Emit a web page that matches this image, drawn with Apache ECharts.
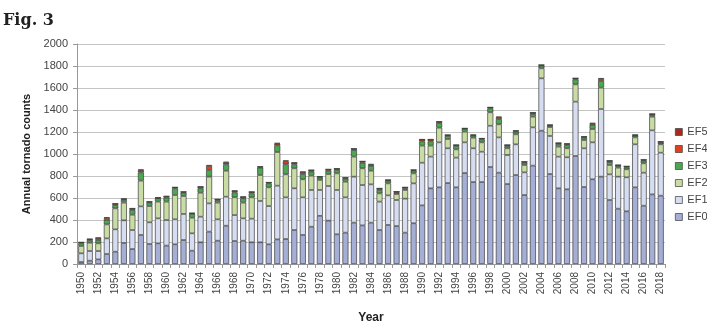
<!DOCTYPE html>
<html>
<head>
<meta charset="utf-8">
<script src="https://cdn.jsdelivr.net/npm/echarts@6/dist/echarts.min.js"></script>
<style>
html,body{margin:0;padding:0;background:#fff;}
#c{width:707px;height:330px;}
</style>
</head>
<body>
<div id="c"></div>
<script>
const years = [];
for (let y = 1950; y <= 2018; y++) years.push(String(y));

const ef0 = [18,30,42,91,112,191,136,264,182,188,167,179,218,121,197,294,212,348,209,212,197,197,179,224,227,309,264,339,438,394,270,285,376,351,376,309,355,345,285,370,533,688,697,736,697,827,745,745,882,830,727,809,627,894,1212,818,688,679,982,700,770,794,582,503,479,697,530,633,621];
const ef1 = [79,88,76,142,203,206,173,260,197,227,233,227,237,158,233,257,194,264,236,203,215,376,348,488,379,379,342,334,235,315,403,321,418,367,348,258,269,237,309,363,388,288,409,316,270,279,307,276,375,321,264,279,206,348,476,346,288,291,494,352,336,615,233,291,309,391,300,582,391];
const ef2 = [67,76,70,127,191,161,139,234,148,152,167,221,163,142,218,243,152,236,161,143,194,236,170,306,209,182,164,130,91,109,151,142,182,152,124,75,109,54,79,91,155,100,133,84,75,97,96,85,122,119,61,91,67,97,91,81,91,82,157,75,121,194,85,82,73,63,85,124,76];
const ef3 = [24,24,30,40,30,24,43,75,32,30,36,61,30,34,40,61,21,58,45,39,36,67,36,61,91,36,48,36,21,30,31,28,60,51,43,31,22,12,15,24,39,39,43,28,31,24,19,27,36,48,21,24,21,25,24,12,24,30,46,21,37,61,27,15,18,16,24,15,15];
const ef4 = [9,8,18,19,12,10,13,20,7,6,12,9,8,7,14,36,9,15,13,13,13,8,8,16,28,14,18,14,9,12,12,9,12,12,12,14,9,10,9,7,17,17,12,9,9,6,6,8,9,16,9,8,9,12,6,7,9,11,9,10,13,18,12,8,9,6,9,10,9];
const ef5 = [0,1,4,6,1,1,2,7,0,1,1,0,1,1,1,9,0,9,3,2,2,1,1,5,8,1,3,1,0,1,0,0,0,0,6,1,0,0,0,0,1,1,0,0,0,0,0,1,0,5,0,1,0,0,0,0,0,1,1,0,5,8,0,1,0,0,0,0,0];

const names = ['EF0','EF1','EF2','EF3','EF4','EF5'];
const values = [ef0, ef1, ef2, ef3, ef4, ef5];
const colors = ['#a5afd6','#d6ddf1','#c9dca3','#4aa84f','#e2401d','#a62a1e'];

const chart = echarts.init(document.getElementById('c'), null, {renderer:'canvas'});
const series = names.map((n, i) => ({
  name: n,
  type: 'bar',
  stack: 'total',
  barWidth: 6,
  data: values[i],
  itemStyle: { color: colors[i], borderColor: '#3c3c3c', borderWidth: 0.7 },
  emphasis: { disabled: true }
}));

chart.setOption({
  animation: false,
  backgroundColor: '#fff',
  title: {
    text: 'Fig. 3', left: -2, top: 8,
    textStyle: { fontFamily: 'DejaVu Serif', fontWeight: 'bold', fontSize: 16, color: '#222' }
  },
  legend: {
    orient: 'vertical',
    left: 670, top: 120,
    data: ['EF5','EF4','EF3','EF2','EF1','EF0'],
    itemWidth: 7, itemHeight: 7, itemGap: 3,
    icon: 'rect',
    itemStyle: { borderColor: '#3c3c3c', borderWidth: 0.7 },
    textStyle: { fontFamily: 'Liberation Sans', fontSize: 11, color: '#444', lineHeight: 14 }
  },
  grid: { left: 77, right: 42, top: 44, bottom: 66 },
  xAxis: {
    type: 'category',
    data: years,
    name: 'Year',
    nameLocation: 'middle',
    nameGap: 48,
    nameTextStyle: { fontFamily: 'Liberation Sans', fontWeight: 'bold', fontSize: 12, color: '#222' },
    axisLine: { lineStyle: { color: '#999' } },
    axisTick: { show: true, interval: 0, length: 4, lineStyle: { color: '#999' } },
    axisLabel: { interval: 1, rotate: 90, margin: 8, fontFamily: 'Liberation Sans', fontSize: 10, color: '#444' }
  },
  yAxis: {
    type: 'value',
    min: 0, max: 2000, interval: 200,
    name: 'Annual tornado counts',
    nameLocation: 'middle',
    nameGap: 44,
    nameTextStyle: { fontFamily: 'Liberation Sans', fontWeight: 'bold', fontSize: 11, color: '#222' },
    axisLine: { show: true, lineStyle: { color: '#999' } },
    axisTick: { show: true, length: 4, lineStyle: { color: '#999' } },
    axisLabel: { margin: 9, fontFamily: 'Liberation Sans', fontSize: 11, color: '#444', formatter: v => String(v) },
    splitLine: { lineStyle: { color: '#c4c4c4' } }
  },
  series: series
});
</script>
</body>
</html>
